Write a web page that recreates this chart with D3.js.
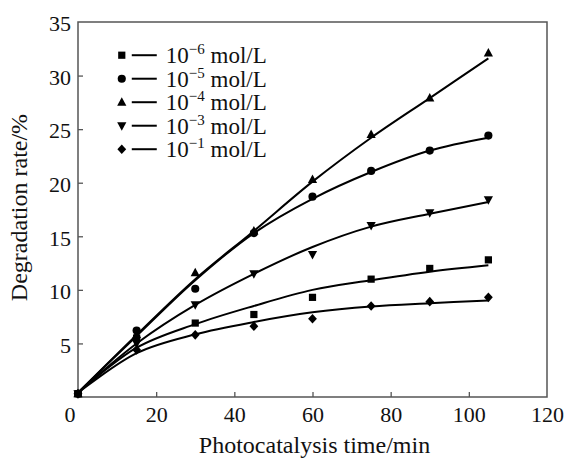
<!DOCTYPE html>
<html>
<head>
<meta charset="utf-8">
<script src="https://cdn.jsdelivr.net/npm/d3@7"></script>
<style>
  body { margin: 0; background: #fff; }
  text { font-family: "Liberation Serif", "Times New Roman", serif; fill: #111; }
</style>
</head>
<body>
<div id="chart"></div>
<script>
// Sampling times (min)
const times = [0, 15, 30, 45, 60, 75, 90, 105];

// Measured degradation rate (%) per concentration
const conc6 = [0.3, 5.5, 6.9, 7.7, 9.3, 11.0, 12.0, 12.8];
const conc5 = [0.3, 6.2, 10.1, 15.3, 18.7, 21.1, 23.0, 24.4];
const conc4 = [0.3, 5.8, 11.6, 15.5, 20.3, 24.5, 27.9, 32.1];
const conc3 = [0.3, 5.0, 8.6, 11.5, 13.3, 16.0, 17.2, 18.4];
const conc1 = [0.3, 4.4, 5.8, 6.6, 7.3, 8.5, 8.9, 9.3];

// Fitted curves at the same times
const fit6 = [0.4, 4.6, 6.8, 8.5, 10.0, 10.9, 11.7, 12.3];
const fit5 = [0.4, 5.7, 10.9, 15.3, 18.5, 21.0, 23.0, 24.2];
const fit4 = [0.4, 5.8, 11.0, 15.5, 20.1, 24.2, 27.9, 31.6];
const fit3 = [0.4, 5.0, 8.6, 11.5, 14.0, 15.9, 17.1, 18.2];
const fit1 = [0.4, 4.1, 5.85, 7.0, 7.9, 8.45, 8.75, 9.0];

const exponents = ["−6", "−5", "−4", "−3", "−1"];
const xTicks = [20, 40, 60, 80, 100, 120];
const yTicks = [5, 10, 15, 20, 25, 30, 35];

const series = [
    { exp: exponents[0], values: conc6, fit: fit6, shape: "square" },
    { exp: exponents[1], values: conc5, fit: fit5, shape: "circle" },
    { exp: exponents[2], values: conc4, fit: fit4, shape: "triangle" },
    { exp: exponents[3], values: conc3, fit: fit3, shape: "down" },
    { exp: exponents[4], values: conc1, fit: fit1, shape: "diamond" }
];

const totalWidth = 569, totalHeight = 459;
const margin = { top: 22, right: 22, bottom: 62, left: 78 };
const width = totalWidth - margin.left - margin.right;
const height = totalHeight - margin.top - margin.bottom;

const svg = d3.select("#chart")
    .append("svg")
    .attr("width", totalWidth)
    .attr("height", totalHeight)
    .append("g")
    .attr("transform", `translate(${margin.left},${margin.top})`);

const x = d3.scaleLinear().domain([0, 120]).range([0, width]);
const y = d3.scaleLinear().domain([0, 35]).range([height, 0]);

// Marker shapes
const symbolFor = shape => {
    if (shape === "square") return d3.symbol(d3.symbolSquare, 52)();
    if (shape === "circle") return d3.symbol(d3.symbolCircle, 52)();
    if (shape === "triangle") return "M0,-5L4.6,3.5L-4.6,3.5Z";
    if (shape === "down") return "M-4.6,-3.5L4.6,-3.5L0,5Z";
    return "M0,-4.8L4.4,0L0,4.8L-4.4,0Z";
};

// Axes (ticks point inward)
const xAxis = svg.append("g")
    .attr("transform", `translate(0,${height})`)
    .call(d3.axisBottom(x).tickValues(xTicks).tickSizeInner(-5).tickSizeOuter(0));
xAxis.select(".domain").remove();
xAxis.selectAll(".tick line").filter(d => d === 120).remove();

const yAxis = svg.append("g")
    .call(d3.axisLeft(y).tickValues(yTicks).tickSizeInner(-5).tickSizeOuter(0));
yAxis.select(".domain").remove();
yAxis.selectAll(".tick line").filter(d => d === 35).remove();

svg.selectAll(".tick line").style("stroke", "#555").style("stroke-width", 1.3);
svg.selectAll(".tick text")
    .style("font-family", "'Liberation Serif', serif")
    .style("font-size", "22px")
    .style("fill", "#111");
xAxis.selectAll(".tick text").attr("dy", "0.71em").attr("y", 9);
yAxis.selectAll(".tick text").attr("dy", "0.4em").attr("x", -7);

// shared origin label
svg.append("text")
    .attr("x", x(0) - 8)
    .attr("y", y(0) + 9)
    .attr("dy", "0.71em")
    .attr("text-anchor", "middle")
    .style("font-size", "22px")
    .text("0");

// Frame
svg.append("rect")
    .attr("width", width)
    .attr("height", height)
    .attr("fill", "none")
    .attr("stroke", "#555")
    .attr("stroke-width", 1.5);

// Fitted curves
const line = d3.line()
    .x((d, i) => x(times[i]))
    .y(d => y(d))
    .curve(d3.curveCatmullRom.alpha(0.5));

svg.append("g")
    .selectAll("path")
    .data(series)
    .join("path")
    .attr("d", d => line(d.fit))
    .attr("fill", "none")
    .attr("stroke", "#000")
    .attr("stroke-width", 2);

// Measured points
series.forEach(s => {
    svg.append("g")
        .selectAll("path")
        .data(s.values)
        .join("path")
        .attr("transform", (d, i) => `translate(${x(times[i])},${y(d)})`)
        .attr("d", symbolFor(s.shape))
        .attr("fill", "#000");
});

// Axis titles
svg.append("text")
    .attr("text-anchor", "middle")
    .attr("x", width / 2 + 2)
    .attr("y", height + 56)
    .style("font-size", "24px")
    .text("Photocatalysis time/min");

svg.append("text")
    .attr("text-anchor", "middle")
    .attr("transform", "rotate(-90)")
    .attr("x", -(height / 2) + 2)
    .attr("y", -51)
    .style("font-size", "24px")
    .text("Degradation rate/%");

// Legend
const legend = svg.append("g")
    .attr("transform", `translate(${x(11.2)}, ${y(31.9)})`);

const rows = legend.selectAll("g")
    .data(series)
    .join("g")
    .attr("transform", (d, i) => `translate(0, ${i * 23.5})`);

rows.append("path")
    .attr("d", d => symbolFor(d.shape))
    .attr("fill", "#000");

rows.append("line")
    .attr("x1", 10)
    .attr("x2", 35)
    .attr("stroke", "#000")
    .attr("stroke-width", 2);

const label = rows.append("text")
    .attr("x", 44)
    .attr("y", 8)
    .style("font-size", "23px");
label.append("tspan").text("10");
label.append("tspan")
    .attr("dy", -9)
    .style("font-size", "15px")
    .text(d => d.exp);
label.append("tspan")
    .attr("dy", 9)
    .text(" mol/L");
</script>
</body>
</html>
